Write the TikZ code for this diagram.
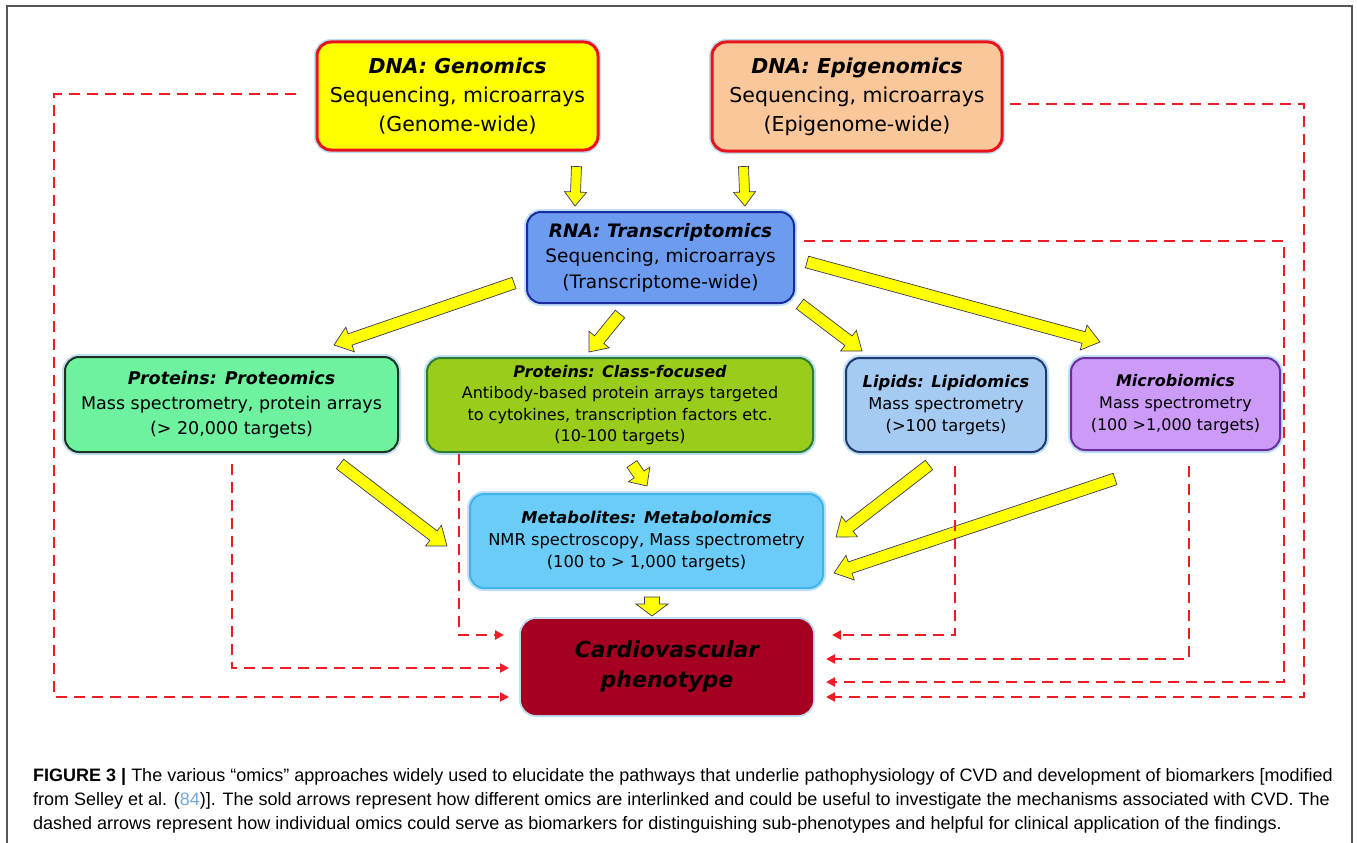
\documentclass[tikz,border=0pt]{standalone}
\usepackage{fontspec}
\setmainfont{DejaVu Sans}[ItalicFont={DejaVu Sans Oblique}, BoldItalicFont={DejaVu Sans Bold Oblique}]
\newfontfamily\capfont{Liberation Sans}
\usepackage{tikz}
\usetikzlibrary{arrows.meta, positioning, calc}
\definecolor{genyellow}{HTML}{FFFF00}
\definecolor{boxred}{HTML}{E8141B}
\definecolor{epipeach}{HTML}{F9C79A}
\definecolor{rnablue}{HTML}{6C9BEF}
\definecolor{rnaedge}{HTML}{1A2BA0}
\definecolor{protgreen}{HTML}{6FF2A0}
\definecolor{protedge}{HTML}{1B3320}
\definecolor{classgreen}{HTML}{9ACD1B}
\definecolor{classedge}{HTML}{2E7D32}
\definecolor{lipidblue}{HTML}{A6CBF2}
\definecolor{lipidedge}{HTML}{1F3A6E}
\definecolor{microlilac}{HTML}{CC9BF8}
\definecolor{microedge}{HTML}{6B2D9E}
\definecolor{metablue}{HTML}{6BCCF8}
\definecolor{metaedge}{HTML}{40B4EA}
\definecolor{cvdred}{HTML}{A50021}
\definecolor{dashred}{HTML}{EE1C25}
\definecolor{glow}{HTML}{BFE0F4}
\definecolor{arrowedge}{HTML}{3A3A55}
\definecolor{linkblue}{HTML}{6FA8DC}
\definecolor{framegray}{HTML}{555555}

\newcommand{\ttl}[1]{{\bfseries\itshape #1}}
% block arrow: shaft half width, head half width, head length, from, to
\newcommand{\yarrow}[5]{%
  \path #4 coordinate (ya) #5 coordinate (yb);
  \draw[yarr] let \p1=($(yb)-(ya)$), \n1={atan2(\y1,\x1)}, \n2={veclen(\x1,\y1)} in
    [shift={(ya)}, rotate=\n1]
    (0pt,-#1pt) -- ({\n2-#3pt},-#1pt) -- ({\n2-#3pt},-#2pt) -- (\n2,0pt)
    -- ({\n2-#3pt},#2pt) -- ({\n2-#3pt},#1pt) -- (0pt,#1pt) -- cycle;}

\begin{document}
\begin{tikzpicture}[
  x=1pt, y=-1pt,
  box/.style 2 args={rectangle, rounded corners=14pt, fill=#1, draw=#2,
                     line width=2pt, align=center, inner sep=0pt,
                     preaction={draw=glow, line width=6pt}},
  yarr/.style={fill=genyellow, draw=arrowedge, line width=0.7pt, line join=miter},
  dsh/.style={draw=dashred, line width=2.6pt, dash pattern=on 11pt off 7pt,
              -{Triangle[length=9pt, width=9pt]}},
  capline/.style={anchor=base west, inner sep=0pt, font=\capfont\fontsize{18}{22}\selectfont},
]
  \useasboundingbox (0,0) rectangle (1357,843);
  \draw[framegray, line width=1.4pt] (7,843) -- (7,6) -- (1352,6) -- (1352,843);

  %% Row 1 -- DNA
  \node[box={genyellow}{boxred}, line width=3pt, minimum width=281pt, minimum height=108pt,
        font=\fontsize{20.5}{29}\selectfont] (gen) at (457.5,96)
        {\ttl{DNA: Genomics}\\Sequencing, microarrays\\(Genome-wide)};
  \node[box={epipeach}{boxred}, line width=3pt, minimum width=290pt, minimum height=109pt,
        font=\fontsize{20.5}{29}\selectfont] (epi) at (857,96.5)
        {\ttl{DNA: Epigenomics}\\Sequencing, microarrays\\(Epigenome-wide)};

  %% Row 2 -- RNA
  \node[box={rnablue}{rnaedge}, minimum width=267pt, minimum height=91pt,
        font=\fontsize{18.5}{25.5}\selectfont] (rna) at (660.5,257.5)
        {\ttl{RNA: Transcriptomics}\\Sequencing, microarrays\\(Transcriptome-wide)};

  %% Row 3 -- proteins, lipids, microbes
  \node[box={protgreen}{protedge}, minimum width=333pt, minimum height=95pt,
        font=\fontsize{17.5}{25}\selectfont] (prot) at (231.5,404.5)
        {\ttl{Proteins: Proteomics}\\Mass spectrometry, protein arrays\\(> 20,000 targets)};
  \node[box={classgreen}{classedge}, minimum width=386pt, minimum height=94pt,
        font=\fontsize{16}{21.5}\selectfont] (cls) at (620,405)
        {\ttl{Proteins: Class-focused}\\Antibody-based protein arrays targeted\\to cytokines, transcription factors etc.\\(10-100 targets)};
  \node[box={lipidblue}{lipidedge}, minimum width=200pt, minimum height=94pt,
        font=\fontsize{16.3}{22}\selectfont] (lip) at (946,405)
        {\ttl{Lipids: Lipidomics}\\Mass spectrometry\\(>100 targets)};
  \node[box={microlilac}{microedge}, minimum width=209pt, minimum height=92pt,
        font=\fontsize{16}{22}\selectfont] (mic) at (1175.5,404)
        {\ttl{Microbiomics}\\Mass spectrometry\\(100 >1,000 targets)};

  %% Row 4 -- metabolites and phenotype
  \node[box={metablue}{metaedge}, minimum width=353pt, minimum height=94pt,
        font=\fontsize{16.3}{22}\selectfont] (met) at (646.5,541)
        {\ttl{Metabolites: Metabolomics}\\NMR spectroscopy, Mass spectrometry\\(100 to > 1,000 targets)};
  \node[box={cvdred}{cvdred}, minimum width=290pt, minimum height=94pt,
        font=\fontsize{22}{30}\selectfont] (cvd) at (667,667)
        {\ttl{Cardiovascular}\\\ttl{phenotype}};

  %% solid (yellow) links
  \yarrow{5}{11}{14}{($(gen.south east)+(-23,15)$)}{($(rna.north)+(-85.5,-5)$)}
  \yarrow{5}{11}{14}{($(epi.south west)+(33,14)$)}{($(rna.north)+(84.5,-5)$)}
  \yarrow{6}{13}{17}{($(rna.west)+(-12,25.5)$)}{($(prot.north east)+(-65,-11)$)}
  \yarrow{6}{13}{16}{($(rna.south)+(-40.5,10)$)}{($(cls.north)+(-31,-5)$)}
  \yarrow{6}{13}{17}{($(rna.south east)+(5,0)$)}{($(lip.north west)+(17,-6)$)}
  \yarrow{6}{13}{17}{($(rna.east)+(12,4.5)$)}{($(mic.north west)+(30,-15)$)}
  \yarrow{6}{13}{17}{($(prot.south east)+(-59,11)$)}{($(met.west)+(-22,5)$)}
  \yarrow{6}{13}{14}{($(cls.south)+(12,11)$)}{($(met.north)+(0.5,-7)$)}
  \yarrow{6}{13}{17}{($(lip.south west)+(84,12)$)}{($(met.east)+(12,-4)$)}
  \yarrow{6}{13}{17}{($(mic.south west)+(45,28)$)}{($(met.east)+(10,32)$)}
  \yarrow{7.5}{16}{12}{($(met.south)+(5.5,8)$)}{($(cvd.north)+(-15,-3)$)}

  %% dashed (biomarker) links
  \coordinate (railL)  at (54,0);
  \coordinate (railR)  at (1284,0);
  \coordinate (railRR) at (1304,0);
  \coordinate (inL1) at ($(cvd.west)+(-17,-32)$);
  \coordinate (inL2) at ($(cvd.west)+(-12,1)$);
  \coordinate (inL3) at ($(cvd.west)+(-12,30)$);
  \coordinate (inR1) at ($(cvd.east)+(19,-32)$);
  \coordinate (inR2) at ($(cvd.east)+(13,-8)$);
  \coordinate (inR3) at ($(cvd.east)+(13,15)$);
  \coordinate (inR4) at ($(cvd.east)+(13,30)$);

  \draw[dsh] ($(gen.west)+(-20,-2)$) -| (railL |- inL3) -- (inL3);
  \draw[dsh] ($(prot.south)+(0.5,11)$) |- (inL2);
  \draw[dsh] ($(cls.south west)+(33,1)$) |- (inL1);
  \draw[dsh] ($(lip.south)+(9,13)$) |- (inR1);
  \draw[dsh] ($(mic.south)+(13.5,15)$) |- (inR2);
  \draw[dsh] ($(rna.east)+(9,-16.5)$) -| (railR |- inR3) -- (inR3);
  \draw[dsh] ($(epi.east)+(6,7.5)$) -| (railRR |- inR4) -- (inR4);

  %% caption
  \node[capline] (cap1) at (33,781) {\textbf{FIGURE 3 |} The various “omics” approaches widely used to elucidate the pathways that underlie pathophysiology of CVD and development of biomarkers [modified};
  \node[capline] (cap2) at (33,805) {from Selley et al. ({\color{linkblue}84})]. The sold arrows represent how different omics are interlinked and could be useful to investigate the mechanisms associated with CVD. The};
  \node[capline] (cap3) at (33,829) {dashed arrows represent how individual omics could serve as biomarkers for distinguishing sub-phenotypes and helpful for clinical application of the findings.};
\end{tikzpicture}
\end{document}
